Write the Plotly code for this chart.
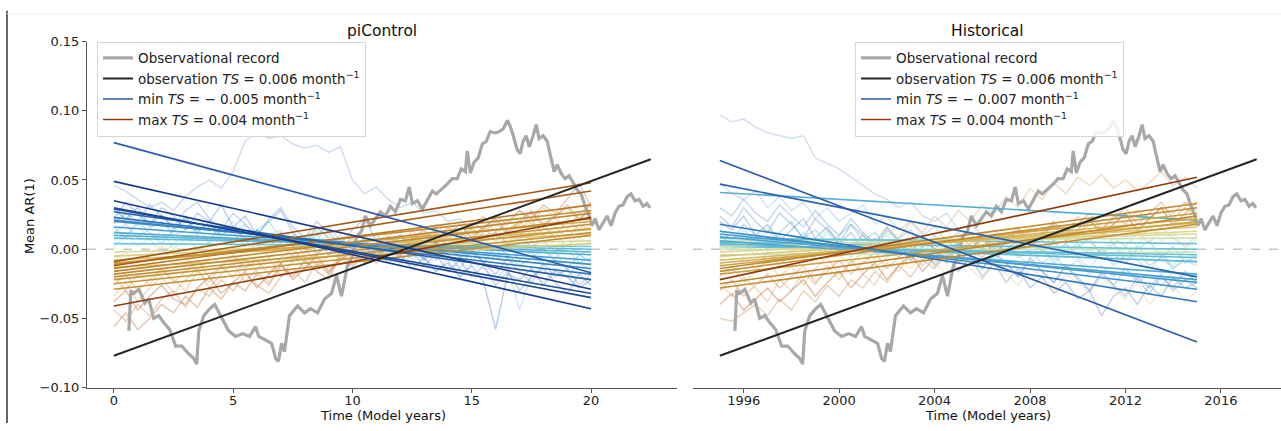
import plotly.graph_objects as go
from plotly.colors import sample_colorscale

W, H = 1281, 431

# ---------------- DATA (AR(1) values in thousandths) ----------------
# Observational record: years since start of record, mean AR(1)
OBS_T = [0.63, 0.71, 0.84, 1.05, 1.30, 1.46, 1.67, 1.88, 2.09, 2.34,
         2.59, 2.85, 3.10, 3.35, 3.47, 3.56, 3.77, 4.02, 4.23, 4.39,
         4.60, 4.81, 5.10, 5.40, 5.69, 5.94, 6.07, 6.36, 6.61, 6.78,
         6.90, 7.03, 7.15, 7.36, 7.70, 7.99, 8.24, 8.54, 8.83, 9.12,
         9.33, 9.54, 9.79, 10.00, 10.17, 10.38, 10.54, 10.75, 10.96, 11.17,
         11.38, 11.59, 11.80, 12.01, 12.22, 12.38, 12.51, 12.72, 12.93, 13.14,
         13.35, 13.51, 13.72, 13.97, 14.18, 14.39, 14.56, 14.73, 14.81, 14.94,
         15.10, 15.27, 15.44, 15.61, 15.77, 15.98, 16.15, 16.32, 16.49, 16.61,
         16.74, 16.90, 17.03, 17.15, 17.28, 17.41, 17.57, 17.70, 17.82, 17.99,
         18.16, 18.33, 18.45, 18.58, 18.74, 18.91, 19.08, 19.25, 19.41, 19.58,
         19.75, 19.92, 20.04, 20.17, 20.33, 20.50, 20.67, 20.84, 21.00, 21.17,
         21.34, 21.51, 21.67, 21.84, 22.01, 22.18, 22.34, 22.47]
OBS_V = [-59, -30, -32, -29, -39, -36, -50, -48, -53, -58,
         -70, -70, -75, -79, -83, -59, -48, -43, -40, -45,
         -52, -59, -63, -61, -63, -56, -63, -66, -68, -79,
         -81, -68, -74, -48, -41, -46, -43, -46, -36, -32,
         -19, -34, -12, -5, 9, 13, 24, 17, 22, 27,
         24, 31, 27, 36, 35, 45, 33, 35, 29, 35,
         42, 40, 43, 47, 51, 51, 58, 56, 71, 55,
         63, 66, 76, 78, 85, 84, 85, 87, 93, 89,
         82, 72, 69, 78, 82, 74, 82, 90, 80, 82,
         78, 64, 56, 61, 55, 51, 53, 48, 43, 40,
         31, 24, 17, 22, 14, 19, 24, 17, 26, 31,
         32, 38, 40, 35, 36, 31, 33, 30]
OBS_TREND_T = [0.0, 22.5]
OBS_TREND_V = [-77, 65]
HIST_START_YEAR = 1995
MODEL_YEARS = 20
MODEL_T = [i * 0.5 for i in range(41)]

# piControl model runs (faint lines)
PI_RUN_A = [46, 42, 36, 30, 34, 28, 38, 45, 50, 44, 56, 78, 84, 80, 82, 76, 73, 75, 70, 74,
            50, 40, 45, 36, 30, 34, 26, 28, 20, 22, 14, 10, 12, 4, 8, 2, 6, -2, 3, -4, 0]
PI_RUN_B = [28, 22, 30, 18, 25, 15, 22, 12, 20, 10, 16, 8, 14, 5, 12, 2, 8, -2, 6, -5,
            2, -8, 0, -10, -4, -14, -6, -16, -10, -20, -12, -24, -58, -18, -22, -14, -26, -16, -20, -28, -22]
PI_RUN_C = [12, 18, 8, 15, 20, 10, 14, 22, 16, 8, 12, 18, 6, 10, 14, 2, 8, -4, 4, 10,
            -2, 6, -8, 0, -12, -4, -6, -16, -8, -20, -10, -14, -22, -12, -44, -18, -24, -14, -20, -10, -16]
PI_RUN_D = [30, 22, 26, 16, 20, 12, 24, 14, 18, 10, 16, 6, 14, 20, 8, 12, 4, 10, 16, 6,
            0, 8, -4, 4, 10, -2, 6, -8, 2, -6, 0, -10, -4, 4, -8, -2, -12, -6, 0, -10, -6]
PI_RUN_E = [6, 12, 2, 8, -4, 4, 10, 0, 6, 14, 4, -2, 8, 2, 12, 6, -4, 4, 10, 2,
            8, -2, 4, 12, 6, 0, 8, 14, 4, 10, 2, 8, 16, 6, 0, 10, 4, 12, 2, 8, 4]
PI_RUN_F = [-8, -2, -14, -4, 2, -10, -4, -16, -6, 0, -8, -2, 4, -6, 2, -10, -2, 6, -4, 0,
            8, -2, 4, -6, 2, 10, 0, 6, -2, 8, 14, 4, 10, 2, 12, 6, 16, 8, 2, 12, 8]
PI_RUN_G = [-20, -30, -18, -26, -14, -22, -30, -16, -24, -12, -20, -8, -16, -24, -10, -4, -14, -6, -18, -2,
            -10, 0, -8, 4, -4, 8, -2, 6, 12, 2, 10, 16, 6, 14, 20, 10, 18, 8, 22, 14, 24]
PI_RUN_H = [-44, -52, -40, -48, -36, -30, -42, -28, -34, -22, -30, -18, -26, -32, -20, -14, -24, -10, -18, -6,
            -14, -2, -10, 4, -6, 2, 10, 0, 8, 14, 4, 12, 20, 10, 18, 26, 16, 24, 30, 20, 34]
PI_RUN_I = [-56, -46, -58, -50, -40, -46, -34, -42, -28, -36, -24, -30, -18, -26, -12, -20, -8, -16, -22, -4,
            -12, 2, -6, 8, -2, 6, 12, 4, 16, 8, 20, 14, 24, 18, 28, 22, 32, 26, 36, 48, 30]
PI_RUN_J = [22, 34, 26, 18, 30, 24, 14, 26, 20, 32, 16, 24, 10, 20, 28, 12, 4, 16, 8, -2,
            10, 2, -6, 4, -8, -2, -12, -4, -16, -8, -20, -12, -26, -16, -30, -20, -14, -24, -32, -18, -26]
PI_RUN_K = [16, 8, 20, 12, 4, 14, 24, 10, 6, 18, 12, 2, 14, 8, -2, 10, 4, 12, -4, 6,
            0, 8, -6, 2, -2, 6, -8, 0, 4, -6, -2, -10, 2, -4, -12, -6, 0, -8, -14, -4, -10]
PI_RUN_L = [-26, -18, -30, -22, -14, -24, -16, -8, -20, -12, -4, -14, -8, -18, -6, 0, -10, -4, 4, -8,
            -2, 6, -4, 2, 10, -2, 4, 12, 2, 8, 16, 6, 12, 4, 14, 22, 10, 16, 8, 18, 14]
PI_RUN_M = [18, 26, 20, 32, 24, 16, 28, 34, 22, 14, 26, 18, 10, 22, 30, 16, 8, 20, 12, 4,
            14, 22, 6, -2, 10, 2, -8, 6, -4, -14, 0, -10, -18, -6, -16, -24, -10, -20, -14, -26, -18]
PI_RUN_N = [-34, -24, -38, -28, -20, -32, -22, -14, -28, -18, -10, -24, -14, -6, -20, -8, 2, -12, -4, 6,
            -6, 4, -2, 10, 0, 14, 4, 18, 8, 2, 16, 24, 12, 20, 28, 18, 30, 22, 14, 26, 32]
PI_RUN_O = [2, 10, 18, 6, 14, 0, 8, 16, 4, 12, 20, 6, 0, 10, 4, -6, 8, 14, 2, -4,
            6, 0, 12, -2, 4, -8, 2, 8, -6, 0, -10, 4, -4, -12, -2, 6, -8, -2, -14, -4, -8]
PI_RUN_P = [-38, -30, -44, -34, -26, -36, -40, -28, -20, -32, -24, -16, -28, -18, -10, -22, -14, -4, -16, -8,
            0, -10, -2, 6, -4, 8, 14, 4, 10, 18, 8, 16, 22, 12, 20, 28, 18, 24, 32, 22, 28]

# Historical model runs (faint lines)
HIST_RUN_A = [97, 92, 94, 88, 84, 82, 80, 82, 66, 62, 58, 52, 46, 40, 36, 30, 34, 24, 20, 26,
              14, 18, 10, 14, 6, 10, 2, 6, -2, 4, -6, 0, -8, -4, -10, -2, -12, -6, -14, -8, -12]
HIST_RUN_B = [48, 40, 36, 42, 30, 38, 28, 34, 22, 30, 20, 26, 32, 18, 24, 14, 20, 10, 16, 6,
              12, 2, 8, -2, 4, -6, 0, -10, -4, -14, -8, -18, -12, -20, -14, -24, -18, -26, -16, -22, -18]
HIST_RUN_C = [20, 14, 24, 10, 18, 6, 14, 22, 8, 16, 4, 12, 0, 8, -4, 6, -8, 2, -12, -2,
              -16, -6, -20, -10, -24, -14, -28, -20, -32, -24, -36, -30, -48, -34, -28, -40, -26, -34, -20, -28, -24]
HIST_RUN_D = [10, 4, 14, 6, 0, 10, 2, 12, 4, -2, 8, 0, 10, 2, -4, 6, -2, 8, 0, -6,
              4, -4, 2, -8, 0, 6, -4, 2, -10, -2, 4, -6, 0, -12, -4, 2, -8, -2, -14, -6, -10]
HIST_RUN_E = [4, 12, 2, 8, 16, 6, 0, 10, 4, 14, 6, -2, 8, 2, 12, 4, 10, -2, 6, 14,
              2, 8, 0, 12, 4, 10, -4, 6, 2, 12, 0, 8, 16, 4, 10, 2, 18, 6, 12, 0, 8]
HIST_RUN_F = [-20, -12, -24, -16, -8, -20, -12, -26, -14, -6, -18, -10, -2, -14, -6, 4, -8, 0, -10, 2,
              -4, 8, -2, 6, 12, 2, 8, 0, 10, 4, 14, 6, -4, 8, 2, 12, 4, 16, 8, 2, 10]
HIST_RUN_G = [-50, -52, -46, -40, -48, -36, -44, -30, -38, -26, -34, -22, -28, -16, -24, -12, -20, -8, -14, -4,
              -10, 0, -6, 4, -2, 8, 2, 12, 6, 16, 10, 20, 14, 24, 18, 28, 22, 30, 26, 34, 28]
HIST_RUN_H = [-10, -18, -6, -14, -2, -12, 0, -8, 4, -6, 8, -2, 12, 4, 16, 8, 20, 12, 24, 16,
              28, 20, 32, 26, 38, 30, 44, 36, 48, 40, 52, 46, 54, 44, 50, 42, 48, 56, 46, 52, 44]
HIST_RUN_I = [0, -8, 4, -4, 8, -2, -10, 2, -6, 6, -4, -12, 0, -8, 4, -6, -14, -2, -10, -18,
              -6, -14, -22, -10, -18, -26, -14, -20, -30, -18, -24, -32, -20, -28, -36, -24, -40, -30, -26, -38, -30]
HIST_RUN_J = [30, 24, 36, 26, 20, 32, 24, 16, 28, 18, 10, 22, 12, 4, 16, 6, -2, 10, 0, -8,
              4, -6, -14, -4, -10, -20, -8, -16, -24, -12, -20, -30, -18, -26, -14, -22, -32, -20, -28, -16, -24]
HIST_RUN_K = [14, 6, 18, 10, 2, 12, 20, 8, 14, 4, 10, 18, 6, 12, 0, 8, 14, 2, 10, -2,
              6, 12, 0, 8, -4, 4, 10, -2, 6, -6, 2, 8, -4, 4, -8, 0, 6, -6, 2, -10, -4]
HIST_RUN_L = [-30, -22, -34, -26, -18, -28, -20, -12, -24, -16, -8, -18, -10, -2, -14, -6, 2, -8, 0, 8,
              -4, 4, 12, 0, 8, 16, 4, 12, 20, 10, 18, 26, 14, 22, 30, 18, 26, 34, 22, 30, 24]
HIST_RUN_M = [24, 16, 30, 20, 12, 26, 18, 8, 22, 14, 4, 18, 10, 0, 14, 6, -4, 8, 0, -10,
              4, -6, -14, -2, -10, -20, -6, -16, -24, -12, -22, -30, -16, -26, -34, -20, -28, -18, -30, -22, -28]
HIST_RUN_N = [-24, -34, -20, -28, -38, -22, -30, -16, -26, -12, -22, -8, -18, -26, -10, -16, -4, -12, 0, -8,
              4, -4, 8, 0, 12, 2, 16, 6, 20, 10, 24, 14, 8, 18, 26, 12, 22, 30, 16, 24, 20]
HIST_RUN_O = [6, -2, 10, 2, 14, 4, -4, 8, 0, 12, 2, -6, 6, -2, 10, 0, -8, 4, -4, 8,
              -2, -10, 2, -6, 6, -4, -12, 0, -8, 4, -6, -14, -2, -10, 2, -8, -16, -4, -12, 0, -8]
HIST_RUN_P = [-40, -32, -44, -36, -28, -38, -30, -22, -34, -24, -16, -28, -18, -10, -22, -12, -4, -16, -6, 2,
              -10, 0, 8, -4, 6, 14, 2, 10, 18, 6, 14, 22, 10, 18, 26, 14, 22, 30, 18, 26, 34]

# Linear trends of each model run: value at start and at end of period
PI_TREND_START = [77, 49, 35, 30, 29, 27, 23, 21, 20, 16, 12, 10, 8, 4,
                  -2, -5, -8, -10, -12, -9, -14, -16, -18, -20, -22, -25, -29, -41, -11, -13]
PI_TREND_END = [-17, -29, -43, -35, -32, -22, -18, -14, -11, -8, -4, -2, 0, 2,
                6, 11, 14, 20, 42, 48, 32, 26, 22, 18, 15, 12, 10, 23, 28, 4]
HIST_TREND_START = [64, 47, 41, 18, 13, 11, 9, 6, 4, 3, 2, 8, 5, 0, -4,
                    6, 2, -2, -5, -8, -10, -12, -14, -16, -18, -22, -25, -28]
HIST_TREND_END = [-67, -20, 21, -38, -29, -24, -22, -18, -9, -6, -4, 4, 0, 0, -2,
                  8, 11, 13, 16, 19, 22, 26, 33, 30, 20, 52, 24, 18]

LEGEND_OBS = "Observational record"
LEGEND_OBS_TREND = "observation <i>TS</i> = 0.006 month<sup>−1</sup>"
PI_LEGEND_MIN = "min <i>TS</i> = − 0.005 month<sup>−1</sup>"
PI_LEGEND_MAX = "max <i>TS</i> = 0.004 month<sup>−1</sup>"
HIST_LEGEND_MIN = "min <i>TS</i> = − 0.007 month<sup>−1</sup>"
HIST_LEGEND_MAX = "max <i>TS</i> = 0.004 month<sup>−1</sup>"

# ---------------- STYLE ----------------
FONT = "DejaVu Sans"
SCALE = 0.001
NEG_SCALE = [[0.0, "#6ccad8"], [0.3, "#3f95d0"], [0.6, "#1c4f9e"], [0.85, "#17398a"], [1.0, "#2a5cab"]]
POS_SCALE = [[0.0, "#c6e4bc"], [0.2, "#e0d48c"], [0.5, "#cfa340"], [0.75, "#b8731f"], [1.0, "#8f3c0a"]]
PI_RUN_COLORS = ["#8fb0e0", "#5b8fd0", "#a6c4ea", "#7fcfdc", "#bfe0b4", "#e6d48c",
                 "#d9b276", "#d49a68", "#c88050", "#6f9ad6", "#6cc2cc", "#cfae5a",
                 "#7aa0d8", "#dca878", "#9ad8e0", "#c07040"]
HIST_RUN_COLORS = ["#9ab6e2", "#a4bde6", "#6f98d4", "#7fcfdc", "#c4e2b4", "#dcbc80",
                   "#d09a68", "#dcae80", "#e6d49a", "#80a6d8", "#6cc2cc", "#cc9460",
                   "#7aa0d8", "#dcb080", "#9ad8e0", "#c07040"]

# vertical pixel positions are given as seen in the final picture; the capture
# compresses the page vertically a little, so map them back to page pixels
CAP_A, CAP_B = 0.968, 6.3
px_x = lambda p: p / W
px_y = lambda p: min(1.0, max(0.0, 1 - ((p - CAP_B) / CAP_A) / H))

fig = go.Figure()


def add_panel(xa, ya, legend, t0, runs, run_colors, tstart, tend, lab_min, lab_max):
    for vals, col in zip(runs, run_colors):
        fig.add_trace(go.Scatter(x=[t0 + t for t in MODEL_T], y=[v * SCALE for v in vals],
                                 mode="lines", line=dict(color=col, width=1.4), opacity=0.45,
                                 xaxis=xa, yaxis=ya, showlegend=False, hoverinfo="skip"))
    fig.add_trace(go.Scatter(x=[t0 + t for t in OBS_T], y=[v * SCALE for v in OBS_V],
                             mode="lines", line=dict(color="#a8a8a8", width=3.2),
                             name=LEGEND_OBS, legend=legend, legendrank=1,
                             xaxis=xa, yaxis=ya, hoverinfo="skip"))
    slopes = [(e - s) / MODEL_YEARS for s, e in zip(tstart, tend)]
    smin, smax = min(slopes), max(slopes)
    imin, imax = slopes.index(smin), slopes.index(smax)
    order = sorted(range(len(slopes)), key=lambda i: abs(slopes[i]))
    for i in order:
        s = slopes[i]
        if s < 0:
            col = sample_colorscale(NEG_SCALE, [s / smin])[0]
        else:
            col = sample_colorscale(POS_SCALE, [s / smax])[0]
        show = i in (imin, imax)
        fig.add_trace(go.Scatter(x=[t0, t0 + MODEL_YEARS], y=[tstart[i] * SCALE, tend[i] * SCALE],
                                 mode="lines", line=dict(color=col, width=1.6),
                                 name=lab_min if i == imin else lab_max,
                                 showlegend=show, legend=legend,
                                 legendrank=3 if i == imin else 4,
                                 xaxis=xa, yaxis=ya, hoverinfo="skip"))
    fig.add_trace(go.Scatter(x=[t0 + t for t in OBS_TREND_T], y=[v * SCALE for v in OBS_TREND_V],
                             mode="lines", line=dict(color="#262626", width=2),
                             name=LEGEND_OBS_TREND, legend=legend, legendrank=2,
                             xaxis=xa, yaxis=ya, hoverinfo="skip"))


add_panel("x", "y", "legend", 0,
          [PI_RUN_A, PI_RUN_B, PI_RUN_C, PI_RUN_D, PI_RUN_E, PI_RUN_F, PI_RUN_G, PI_RUN_H,
           PI_RUN_I, PI_RUN_J, PI_RUN_K, PI_RUN_L, PI_RUN_M, PI_RUN_N, PI_RUN_O, PI_RUN_P],
          PI_RUN_COLORS, PI_TREND_START, PI_TREND_END, PI_LEGEND_MIN, PI_LEGEND_MAX)
add_panel("x2", "y2", "legend2", HIST_START_YEAR,
          [HIST_RUN_A, HIST_RUN_B, HIST_RUN_C, HIST_RUN_D, HIST_RUN_E, HIST_RUN_F, HIST_RUN_G, HIST_RUN_H,
           HIST_RUN_I, HIST_RUN_J, HIST_RUN_K, HIST_RUN_L, HIST_RUN_M, HIST_RUN_N, HIST_RUN_O, HIST_RUN_P],
          HIST_RUN_COLORS, HIST_TREND_START, HIST_TREND_END, HIST_LEGEND_MIN, HIST_LEGEND_MAX)

ydom = [px_y(388), px_y(41)]
tickfont = dict(family=FONT, size=13, color="#222")
axis_common = dict(showgrid=False, zeroline=False, showline=True, linecolor="#555", linewidth=1,
                   ticks="outside", ticklen=4, tickcolor="#555", tickfont=tickfont, mirror=False)

legend_common = dict(font=dict(family=FONT, size=13.5, color="#222"), bgcolor="rgba(255,255,255,0.85)",
                     bordercolor="#d6d6d6", borderwidth=1, xanchor="left", yanchor="top",
                     itemwidth=30, tracegroupgap=0, traceorder="normal")

fig.update_layout(
    width=W, height=H, autosize=False, margin=dict(l=0, r=0, t=0, b=0, pad=0),
    paper_bgcolor="white", plot_bgcolor="white",
    font=dict(family=FONT, size=13, color="#222"),
    xaxis=dict(domain=[px_x(87), px_x(677)], range=[-1.125, 23.6], tick0=0, dtick=5,
               ticklabelstandoff=-3, **axis_common),
    yaxis=dict(domain=ydom, range=[-0.1, 0.15], tick0=-0.1, dtick=0.05, tickformat=".2f", **axis_common),
    xaxis2=dict(domain=[px_x(693), 1.0], range=[1993.875, 2018.52], tick0=1996, dtick=4,
                anchor="y2", ticklabelstandoff=-3, **axis_common),
    yaxis2=dict(domain=ydom, range=[-0.1, 0.15], anchor="x2", showticklabels=False,
                showgrid=False, zeroline=False, showline=False, ticks=""),
    legend=dict(x=px_x(97), y=px_y(41), **legend_common),
    legend2=dict(x=px_x(855), y=px_y(41), **legend_common),
    showlegend=True,
)

shapes = []
for xr, yr in (("x domain", "y"), ("x2 domain", "y2")):
    shapes.append(dict(type="line", xref=xr, yref=yr, x0=0, x1=1, y0=0, y1=0,
                       line=dict(color="#aaaaaa", width=1, dash="dash"), layer="below"))
shapes.append(dict(type="line", xref="paper", yref="paper", x0=px_x(7), x1=px_x(7),
                   y0=px_y(430), y1=px_y(10), line=dict(color="#333", width=1.5)))
shapes.append(dict(type="line", xref="paper", yref="paper", x0=px_x(7), x1=1,
                   y0=px_y(13), y1=px_y(13), line=dict(color="#f0f0f0", width=1)))
fig.update_layout(shapes=shapes)

ann = []
for txt, x, y, size, angle in (("piControl", 382, 30, 15.5, 0), ("Historical", 987.5, 30, 15.5, 0),
                               ("Time (Model years)", 382.5, 416, 13, 0),
                               ("Time (Model years)", 988, 416, 13, 0),
                               ("Mean AR(1)", 29, 216, 13, -90)):
    ann.append(dict(text=txt, x=px_x(x), y=px_y(y), xref="paper", yref="paper", showarrow=False,
                    xanchor="center", yanchor="middle", textangle=angle,
                    font=dict(family=FONT, size=size, color="#111")))
fig.update_layout(annotations=ann)

fig.write_html("out.html", config={"displayModeBar": False, "responsive": False},
               post_script="document.body.style.margin='0';document.body.style.overflow='hidden';")
